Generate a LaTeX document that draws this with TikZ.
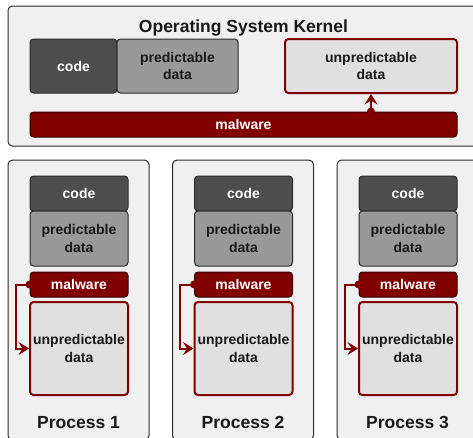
\documentclass[tikz,border=0pt]{standalone}
\usepackage{fontspec}
\setmainfont{Liberation Sans}
\usetikzlibrary{arrows.meta}
\definecolor{darkred}{HTML}{800000}
\definecolor{panelgray}{HTML}{F0F0F0}
\definecolor{codegray}{HTML}{4D4D4D}
\definecolor{predgray}{HTML}{999999}
\definecolor{unpgray}{HTML}{E0E0E0}
\definecolor{edgegray}{HTML}{2B2B2B}
\begin{document}
\begin{tikzpicture}[x=1pt,y=-1pt,
  panel/.style={draw=edgegray, fill=panelgray, rounded corners=4.5pt, line width=1pt, inner sep=0pt},
  blk/.style={rounded corners=3.5pt, line width=1pt, align=center, inner sep=0pt,
    font=\bfseries\fontsize{14}{17.5}\selectfont},
  codebox/.style={blk, draw=edgegray, fill=codegray, text=white},
  predbox/.style={blk, draw=edgegray, fill=predgray, text=black!90},
  unpbox/.style={blk, draw=darkred, fill=unpgray, text=black!90, line width=2pt},
  malbox/.style={blk, draw=black!60!darkred, fill=darkred, text=white},
  heading/.style={font=\bfseries\fontsize{17.5}{21}\selectfont, text=black!90, inner sep=0pt, anchor=base},
  conn/.style={draw=darkred, line width=2pt, -{Stealth[length=10.5pt,width=13pt,inset=4pt]}},
  dot/.style={fill=darkred}]
\useasboundingbox (0,0) rectangle (473,437);
\clip (0,0) rectangle (473,437);

% kernel region
\node[panel, minimum width=472pt, minimum height=140pt] (kernel) at (244,76) {};
\node[heading] (ktitle) at (243.5,32.7) {Operating System Kernel};
\node[codebox, minimum width=87pt, minimum height=54pt] (kcode) at (73.5,66) {code};
\node[predbox, minimum width=121pt, minimum height=54pt] (kpred) at (177.5,66) {predictable\\data};
\node[unpbox, minimum width=172pt, minimum height=54pt] (kunp) at (371,66) {unpredictable\\data};
\node[malbox, minimum width=427pt, minimum height=25pt] (kmal) at (243.5,124.5) {malware};
\coordinate (kfrom) at (kunp.south |- kmal.north);
\fill[dot] (kfrom) circle (4pt);
\draw[conn] (kfrom) -- (kunp.south);

% user processes
\foreach \i/\dx in {1/0, 2/164.5, 3/329} {
  \begin{scope}[xshift=\dx pt]
    \node[panel, minimum width=141pt, minimum height=280pt] (proc\i) at (78.5,300) {};
    \node[codebox, minimum width=98pt, minimum height=35pt] (code\i) at (79,193.5) {code};
    \node[predbox, minimum width=98pt, minimum height=55pt] (pred\i) at (79,238.5) {predictable\\data};
    \node[malbox, minimum width=98pt, minimum height=25pt] (mal\i) at (79,284.5) {malware};
    \node[unpbox, minimum width=98pt, minimum height=93pt] (unp\i) at (79,348.5) {unpredictable\\data};
    \node[heading] (ptitle\i) at (78.5,428) {Process \i};
    \fill[dot] (mal\i.west) circle (4pt);
    \draw[conn] (mal\i.west) -- ++(-14,0) |- (unp\i.west);
  \end{scope}
}
\end{tikzpicture}
\end{document}
